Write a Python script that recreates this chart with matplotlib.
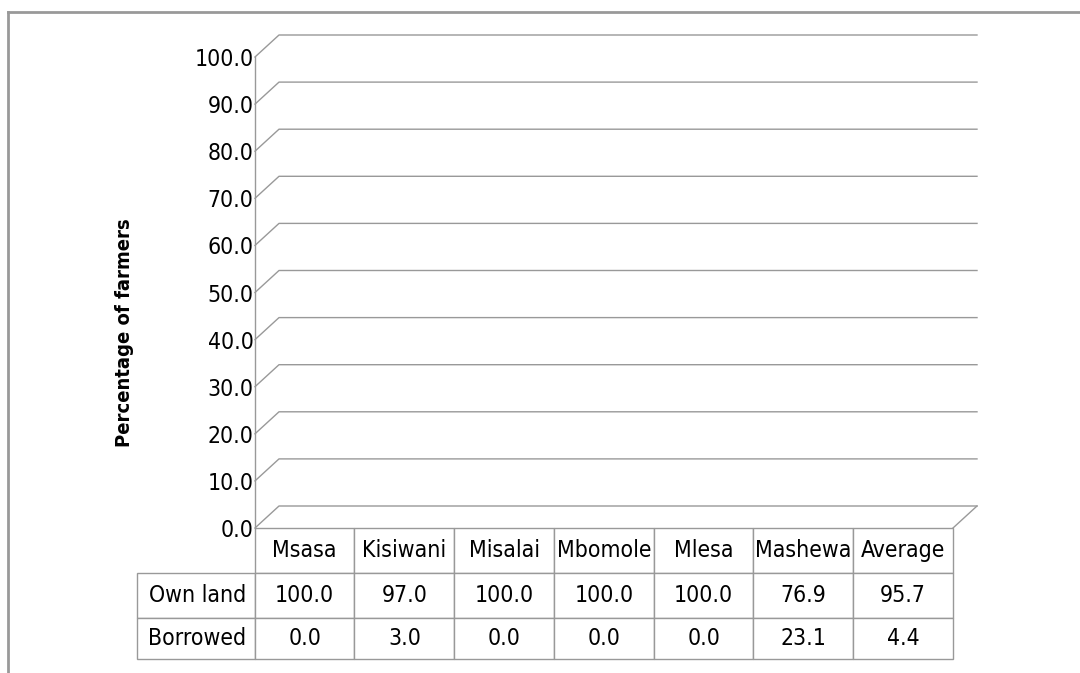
import matplotlib
matplotlib.use("Agg")
import matplotlib.pyplot as plt
from matplotlib.lines import Line2D
from matplotlib.table import Table

# ---- data ----
categories = ["Msasa", "Kisiwani", "Misalai", "Mbomole", "Mlesa", "Mashewa", "Average"]
series_names = ["Own land", "Borrowed"]
own_land = [100.0, 97.0, 100.0, 100.0, 100.0, 76.9, 95.7]
borrowed = [0.0, 3.0, 0.0, 0.0, 0.0, 23.1, 4.4]
y_ticks = [0, 10, 20, 30, 40, 50, 60, 70, 80, 90, 100]
y_label = "Percentage of farmers"

plt.rcParams["font.family"] = ["DejaVu Sans"]
plt.rcParams["font.stretch"] = "condensed"

W, H = 1080, 673
GRAY = "#999999"
FS = 16.5
fig = plt.figure(figsize=(W / 100, H / 100), dpi=100)


def fx(px):
    return px / W


def fy(py):
    return 1 - py / H


# front plane of the 3-D wall (pixels)
left, right, top, bottom = 255, 953, 57, 528
depth_x, depth_y = 24, 22

ax = fig.add_axes([fx(left), fy(bottom), (right - left) / W, (bottom - top) / H])
n = len(categories)
ax.set_xlim(0, n)
ax.set_ylim(0, 100)
ddx = depth_x / (right - left) * n
ddy = depth_y / (bottom - top) * 100

for v in y_ticks:
    ax.plot([0, ddx, n + ddx], [v, v + ddy, v + ddy], color=GRAY, lw=1.0, clip_on=False)
ax.plot([n, n + ddx], [0, ddy], color=GRAY, lw=1.0, clip_on=False)

for s in ["top", "right", "bottom"]:
    ax.spines[s].set_visible(False)
ax.spines["left"].set_color(GRAY)
ax.spines["left"].set_linewidth(1.0)
ax.set_xticks([])
ax.set_yticks(y_ticks)
ax.set_yticklabels([f"{v:.1f}" for v in y_ticks])
ax.tick_params(axis="y", length=0, pad=1, labelsize=FS)

ax.set_ylabel(y_label, fontsize=14.5, fontweight="bold")
ax.yaxis.set_label_coords((134 - left) / (right - left), (bottom - 333) / (bottom - top))

# ---- data table ----
tbl_left, tbl_bottom = 137, 659
label_w, col_w = 118, 100
row_h = [45, 45, 41]
tbl = Table(ax, bbox=[(tbl_left - left) / (right - left), -(tbl_bottom - bottom) / (bottom - top),
                      (right - tbl_left) / (right - left), (tbl_bottom - bottom) / (bottom - top)])
# header row
tbl.add_cell(0, 0, width=label_w, height=row_h[0], text="", edgecolor="none", fill=False)
for j, cat in enumerate(categories):
    tbl.add_cell(0, j + 1, width=col_w, height=row_h[0], text=cat, loc="center",
                 edgecolor=GRAY, facecolor="white")
rows = [own_land, borrowed]
for i, (name, vals) in enumerate(zip(series_names, rows)):
    c = tbl.add_cell(i + 1, 0, width=label_w, height=row_h[i + 1], text=name, loc="right",
                     edgecolor=GRAY, facecolor="white")
    c.PAD = 0.07
    for j, v in enumerate(vals):
        tbl.add_cell(i + 1, j + 1, width=col_w, height=row_h[i + 1], text=f"{v:.1f}", loc="center",
                     edgecolor=GRAY, facecolor="white")
tbl.auto_set_font_size(False)
tbl.set_fontsize(FS)
for cell in tbl.get_celld().values():
    cell.set_linewidth(1.0)
ax.add_table(tbl)

# ---- outer frame ----
fig.add_artist(Line2D([fx(8), 1], [fy(12), fy(12)], transform=fig.transFigure, color=GRAY, lw=2))
fig.add_artist(Line2D([fx(8), fx(8)], [fy(12), 0], transform=fig.transFigure, color=GRAY, lw=2))

fig.savefig("out.png", dpi=100)
